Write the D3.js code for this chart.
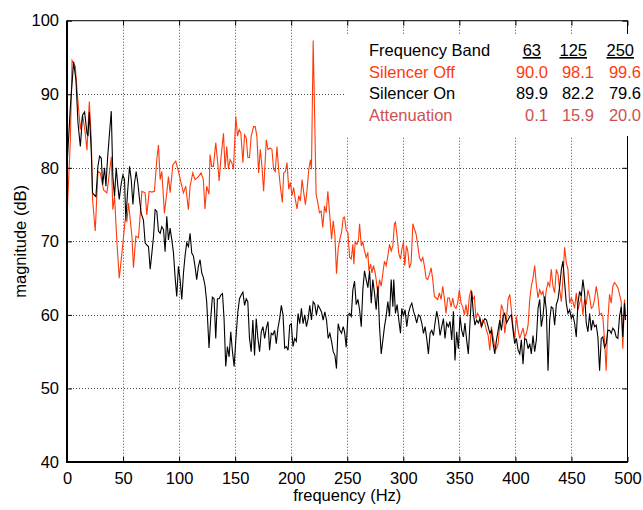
<!DOCTYPE html>
<html>
<head>
<meta charset="utf-8">
<script src="https://cdn.jsdelivr.net/npm/d3@7"></script>
<style>
  body { margin: 0; background: #fff; }
  svg { display: block; }
  text { font-family: "Liberation Sans", Arial, Helvetica, sans-serif; }
</style>
</head>
<body>
<div id="chart"></div>
<script>
// --- data ---
const offHz = [0,3.0,4.5,7.4,8.9,11.9,13.9,16.3,17.8,19.9,21.7,22.8,25.2,27.6,29.7,32.6,35.6,37.1,39.5,40.9,42.4,44.5,46.6,49.0,51.9,53.4,54.9,57.9,59.3,61.4,63.8,66.8,69.7,71.2,73.3,75.7,78.0,80.1,81.6,83.1,84.6,86.9,89.0,90.5,92.0,94.4,97.0,99.4,101.8,103.9,105.9,108.3,109.8,112.2,114.2,117.2,119.6,
  121.6,123.1,124.6,126.7,127.6,129.1,130.6,132.7,134.2,135.7,137.2,139.6,141.0,142.5,144.0,145.5,147.0,148.5,150.6,152.1,153.6,155.1,156.9,158.4,159.9,161.3,162.8,164.3,166.4,167.9,169.4,170.9,172.4,173.9,175.4,177.8,179.3,181.3,182.8,184.3,185.8,187.3,188.8,190.3,192.1,193.3,194.8,196.3,197.8,199.3,200.7,202.2,203.7,205.2,206.7,208.2,209.7,211.2,212.7,214.2,215.7,217.2,218.1,219.6,221.0,222.2,223.7,225.2,226.7,228.2,229.7,231.2,232.7,234.2,236.0,237.5,239.0,240.4,241.9,243.4,244.9,246.4,
  247.6,249.1,250.6,252.1,253.6,255.0,255.9,257.1,258.6,260.1,261.0,262.5,263.9,265.4,266.9,268.4,269.3,270.8,272.0,273.4,274.9,275.8,277.3,278.8,280.3,281.8,283.2,284.7,286.2,287.7,289.2,290.7,292.1,293.0,294.5,296.0,297.5,298.7,300.1,301.3,302.8,304.0,305.5,307.0,308.5,309.9,311.4,312.9,314.4,315.9,317.4,318.8,320.3,321.8,323.3,324.8,326.3,327.7,329.2,330.7,332.2,333.7,335.2,336.6,338.1,339.6,341.1,342.6,344.1,345.5,347.0,348.5,350.0,351.5,353.0,354.5,355.9,357.4,358.9,360.4,361.9,363.4,364.8,366.3,367.8,369.3,370.8,
  372.7,374.2,375.7,377.2,378.6,380.1,381.6,383.1,384.6,386.1,387.5,389.0,390.5,392.0,393.5,395.0,396.4,397.9,399.4,400.9,402.4,403.9,405.3,406.8,408.3,409.8,411.3,412.8,414.2,415.7,417.2,418.7,420.2,421.7,423.1,424.6,426.1,427.6,429.1,430.6,432.0,433.5,435.0,436.5,438.0,439.5,441.0,442.4,443.9,445.4,446.9,448.4,449.9,451.3,452.8,454.3,455.8,457.3,458.8,460.2,461.7,463.2,464.7,466.2,467.7,469.1,470.6,472.1,473.6,475.1,476.6,478.0,479.5,481.0,482.5,484.0,485.5,486.9,488.4,489.9,491.4,492.9,494.4,495.8,497.3,498.2];
const offDb = [73.2,83.8,94.6,93.8,90.6,85.2,87.2,84.7,82.4,89.0,83.8,75.7,71.4,79.5,79.3,77.0,76.6,78.4,81.5,74.3,76.1,70.0,65.0,68.4,72.9,72.7,75.2,70.7,66.4,70.7,70.5,76.8,76.6,73.6,76.8,76.7,76.8,81.1,83.1,78.4,79.5,73.8,76.6,78.8,76.6,80.4,80.9,79.5,77.9,76.6,77.5,74.3,77.5,79.3,78.4,78.8,79.3,
  78.4,74.4,77.5,76.4,81.8,80.2,80.2,83.4,81.1,78.2,81.1,84.7,79.8,82.9,79.8,81.1,80.7,79.8,87.0,84.3,85.2,84.7,80.7,84.5,84.1,81.4,81.4,84.3,85.6,85.6,84.3,79.3,82.5,80.2,76.8,83.8,82.5,82.7,82.5,79.8,79.5,82.9,79.8,77.5,75.3,79.3,79.5,80.7,77.1,78.0,76.2,77.3,75.7,74.4,76.2,75.5,78.4,76.6,75.0,77.1,79.8,81.1,79.8,97.3,86.5,76.4,75.3,73.9,74.1,71.9,74.8,73.9,76.8,73.9,70.3,72.8,70.8,65.6,69.0,70.3,71.2,73.2,
  73.3,71.5,71.2,67.8,67.6,69.6,66.9,69.9,69.6,70.3,72.4,69.4,69.9,68.7,67.8,68.5,66.0,66.9,65.7,66.7,65.7,64.8,62.8,64.8,63.9,65.7,67.3,66.7,68.0,69.6,68.7,69.4,72.4,72.6,70.6,68.3,67.6,68.9,69.9,66.7,69.4,68.7,66.4,67.1,72.4,71.7,71.0,69.4,67.8,67.3,67.8,66.7,65.0,64.8,65.5,66.4,64.8,62.5,62.3,62.1,63.0,62.1,63.9,62.3,60.2,62.3,62.3,61.1,62.3,61.1,60.9,61.6,63.4,61.6,61.1,60.0,61.4,59.8,62.5,63.4,62.1,62.5,59.5,60.2,59.8,58.4,59.3,
  58.9,57.9,57.2,55.2,58.4,57.0,55.6,55.4,56.1,58.9,61.4,60.7,57.5,59.3,62.1,62.8,60.7,58.4,56.8,59.8,57.9,56.8,57.5,58.2,57.0,57.5,58.6,62.1,63.9,65.0,66.7,64.1,62.3,63.4,62.8,63.2,61.6,63.4,64.4,63.9,66.2,63.9,63.0,66.2,65.5,63.4,61.8,65.0,69.2,67.1,66.2,61.6,62.3,61.8,60.9,63.0,60.7,61.6,62.5,60.0,62.1,61.4,63.4,62.5,60.9,61.1,62.1,63.9,62.5,60.0,60.2,59.8,56.6,52.4,59.3,62.8,61.6,63.9,64.4,64.1,63.7,62.8,61.8,55.4,62.1,59.8];

const onHz = [0,3.0,5.9,8.0,9.8,11.9,13.9,15.7,17.8,18.7,19.9,21.7,22.8,24.3,25.8,27.6,29.1,30.6,31.8,33.5,34.7,36.2,37.7,39.5,40.9,42.4,43.9,45.4,46.6,48.4,49.9,51.3,52.5,54.0,55.8,57.3,58.8,60.2,61.7,63.2,64.7,66.2,68.2,69.7,71.2,72.7,74.2,75.7,77.2,78.6,80.1,81.6,83.1,84.6,86.1,87.5,89.0,90.5,92.0,93.5,95.0,96.4,97.9,99.4,100.9,102.4,103.9,105.3,106.8,108.3,109.8,111.3,112.8,114.2,115.7,117.2,118.7,120.2,
  121.6,123.1,124.6,126.7,128.2,129.7,131.2,132.7,134.2,135.7,137.2,138.7,140.1,141.6,143.1,144.6,146.1,147.6,149.1,150.9,152.4,153.9,155.4,156.9,158.4,159.9,161.3,162.8,164.3,165.8,167.3,168.8,170.3,171.8,173.3,174.8,176.3,177.8,179.3,180.7,182.2,183.7,185.2,186.7,188.2,189.7,191.2,192.7,194.2,195.7,197.2,198.7,200.1,201.6,203.1,204.6,206.1,207.6,209.1,210.6,212.1,213.6,215.1,216.6,218.1,219.6,221.0,222.5,224.0,225.5,227.0,228.5,230.0,231.5,233.0,234.5,236.0,237.5,239.0,240.4,241.9,243.4,244.9,246.4,
  247.6,249.1,250.6,252.1,253.6,255.0,256.5,258.0,259.5,261.0,262.5,263.9,265.4,266.9,268.4,269.9,271.4,272.8,274.3,275.8,277.3,278.8,280.3,281.8,283.2,284.7,286.2,287.7,289.2,290.7,291.5,293.0,294.5,296.0,297.5,298.7,300.1,301.6,303.1,304.6,306.1,307.6,309.1,310.5,312.0,313.5,315.0,316.5,318.0,319.4,320.9,322.4,323.9,325.4,326.9,328.3,329.8,331.3,332.8,334.3,335.8,337.2,338.7,340.2,341.7,343.2,344.7,346.1,347.6,349.1,350.6,352.1,353.6,355.0,356.5,358.0,359.5,361.0,362.5,363.9,365.4,366.9,368.4,369.9,371.4,
  372.7,374.2,375.7,377.2,378.6,380.1,381.6,383.1,384.6,386.1,387.5,389.0,390.5,392.0,393.5,395.0,396.4,397.9,399.4,400.9,402.4,403.9,405.3,406.8,408.3,409.8,411.3,412.8,414.2,415.7,417.2,418.7,420.2,421.7,423.1,424.6,426.1,427.6,429.1,430.6,432.0,433.5,435.0,436.5,438.0,439.5,441.0,442.4,443.9,445.4,446.9,448.4,449.9,451.3,452.8,454.3,455.8,457.3,458.8,460.2,461.7,463.2,464.7,466.2,467.7,469.1,470.6,472.1,473.6,475.1,476.6,478.0,479.5,481.0,482.5,484.0,485.5,486.9,488.4,489.9,491.4,492.9,494.4,495.8,497.3,498.2];
const onDb = [80.2,88.3,94.4,91.9,86.1,82.9,87.2,87.6,84.7,84.3,87.6,82.0,76.6,76.3,76.1,80.2,81.6,81.3,77.7,80.0,77.5,81.3,84.3,87.7,78.8,76.1,80.0,77.5,75.7,77.9,79.0,78.4,72.9,76.6,80.2,78.4,75.0,77.9,79.5,77.9,75.7,73.8,72.9,69.8,69.5,69.3,66.2,68.4,70.7,74.3,74.1,71.4,71.1,72.0,71.6,68.6,73.4,70.2,71.8,70.2,68.4,65.2,62.5,66.6,64.8,62.1,65.7,68.0,69.8,69.3,71.1,68.4,68.0,66.6,64.8,66.6,67.5,65.7,
  65.1,64.0,61.8,55.5,59.5,62.4,62.2,56.8,62.2,62.2,62.7,62.9,59.5,53.0,55.7,54.3,57.7,55.0,53.0,57.3,60.4,62.2,62.7,63.1,61.3,62.2,61.8,56.8,55.0,59.3,54.5,59.5,56.8,55.0,57.7,58.4,56.8,58.2,59.1,55.2,57.5,57.3,57.9,56.1,58.2,59.5,61.3,60.0,55.5,55.7,55.2,58.6,58.8,55.7,56.8,56.4,60.2,58.8,60.9,58.8,60.0,58.4,59.5,61.3,59.3,61.8,61.5,60.0,61.3,60.9,60.4,59.3,60.4,59.3,56.8,57.5,56.4,55.0,54.5,52.7,58.8,57.9,57.5,58.4,
  57.7,55.6,60.0,60.2,59.8,63.4,64.6,61.4,62.1,60.7,58.4,63.4,66.0,64.8,63.7,66.0,61.6,64.8,63.0,60.7,63.9,58.4,54.7,56.6,58.4,59.8,61.8,59.8,64.8,61.1,64.8,60.2,61.4,59.3,57.5,60.9,59.8,60.7,58.4,60.2,61.1,61.6,60.5,59.8,58.9,60.0,59.8,58.9,57.5,58.4,56.8,54.7,57.5,57.9,57.2,58.9,60.5,59.3,57.2,58.4,59.5,56.8,58.9,58.4,59.1,56.6,60.5,53.8,57.7,55.4,59.8,57.9,57.0,58.9,56.6,54.7,58.9,63.2,60.2,58.6,59.3,58.9,59.5,58.4,59.1,
  59.5,59.3,58.4,57.5,57.9,56.1,54.7,56.6,57.9,59.3,57.9,59.8,60.2,58.9,59.3,59.8,60.0,57.9,56.1,56.8,55.2,54.7,56.6,53.3,56.8,56.6,55.4,56.1,54.7,57.2,55.0,56.6,60.9,62.1,58.4,59.8,62.5,60.7,52.4,59.3,61.1,60.9,58.6,61.4,62.1,63.9,66.2,67.3,64.4,61.6,60.2,60.7,59.5,60.0,58.9,57.0,61.6,63.2,62.5,64.8,63.0,58.9,57.7,60.2,57.9,59.3,58.4,58.6,57.0,52.4,56.8,57.0,55.6,56.1,57.9,57.9,57.5,58.2,57.9,57.0,56.8,59.8,61.1,57.0,61.6,59.3];

const xTicks = [0, 50, 100, 150, 200, 250, 300, 350, 400, 450, 500];
const yTicks = [40, 50, 60, 70, 80, 90, 100];
const bandLabels = ["63", "125", "250"];
const offBand = ["90.0", "98.1", "99.6"];
const onBand = ["89.9", "82.2", "79.6"];
const attBand = ["0.1", "15.9", "20.0"];

// --- layout ---
const W = 643, H = 510;
const m = { left: 67, right: 15.5, top: 20.7, bottom: 48 };
const iw = W - m.left - m.right, ih = H - m.top - m.bottom;
const RED = "#ff3a0a", ATT = "#cc5252";
const FS = "16.5px";

const svg = d3.select("#chart").append("svg").attr("width", W).attr("height", H);

const x = d3.scaleLinear().domain([0, 500]).range([m.left, m.left + iw]);
const y = d3.scaleLinear().domain([40, 100]).range([m.top + ih, m.top]);

// grid
const grid = svg.append("g").attr("stroke", "#444").attr("stroke-width", 1).attr("stroke-dasharray", "1,2");
grid.selectAll("line.gx").data(xTicks.slice(1, -1)).join("line")
  .attr("x1", d => Math.round(x(d)) + 0.5).attr("x2", d => Math.round(x(d)) + 0.5)
  .attr("y1", m.top).attr("y2", m.top + ih);
grid.selectAll("line.gy").data(yTicks.slice(1, -1)).join("line")
  .attr("y1", d => Math.round(y(d)) + 0.5).attr("y2", d => Math.round(y(d)) + 0.5)
  .attr("x1", m.left).attr("x2", m.left + iw);

// lines
svg.append("clipPath").attr("id", "plot").append("rect")
  .attr("x", m.left).attr("y", m.top).attr("width", iw).attr("height", ih);
const line = d3.line().x(d => x(d[0])).y(d => y(d[1]));
const offPts = offHz.map((f, i) => [f, offDb[i]]);
const onPts = onHz.map((f, i) => [f, onDb[i]]);
svg.append("path").datum(offPts).attr("d", line).attr("fill", "none")
  .attr("stroke", RED).attr("stroke-width", 1.1).attr("clip-path", "url(#plot)");
svg.append("path").datum(onPts).attr("d", line).attr("fill", "none")
  .attr("stroke", "#000").attr("stroke-width", 1.1).attr("clip-path", "url(#plot)");

// axes (ticks inward, on all four sides)
const fmt = d3.format("d");
const ax = svg.append("g");
ax.append("g").attr("transform", `translate(0,${m.top + ih})`)
  .call(d3.axisBottom(x).tickValues(xTicks).tickFormat(fmt).tickSizeInner(-5).tickSizeOuter(0).tickPadding(10));
ax.append("g").attr("transform", `translate(0,${m.top})`)
  .call(d3.axisTop(x).tickValues(xTicks).tickFormat("").tickSizeInner(-5).tickSizeOuter(0));
ax.append("g").attr("transform", `translate(${m.left},0)`)
  .call(d3.axisLeft(y).tickValues(yTicks).tickFormat(fmt).tickSizeInner(-5).tickSizeOuter(0).tickPadding(8));
ax.append("g").attr("transform", `translate(${m.left + iw},0)`)
  .call(d3.axisRight(y).tickValues(yTicks).tickFormat("").tickSizeInner(-5).tickSizeOuter(0));
ax.selectAll(".domain").remove();
ax.selectAll("text").attr("font-size", FS).attr("font-family", "Liberation Sans, Arial, sans-serif").attr("fill", "#000");
ax.selectAll(".tick line").attr("stroke", "#000");

// frame
svg.append("rect").attr("x", m.left).attr("y", m.top).attr("width", iw).attr("height", ih)
  .attr("fill", "none").attr("stroke", "#000").attr("stroke-width", 1);
svg.append("line").attr("x1", m.left).attr("x2", m.left).attr("y1", m.top).attr("y2", m.top + ih)
  .attr("stroke", "#000").attr("stroke-width", 2);
svg.append("line").attr("x1", m.left - 1).attr("x2", m.left + iw).attr("y1", m.top + ih).attr("y2", m.top + ih)
  .attr("stroke", "#000").attr("stroke-width", 2);

// axis titles
svg.append("text").attr("x", m.left + iw / 2).attr("y", 501).attr("text-anchor", "middle")
  .attr("font-size", FS).text("frequency (Hz)");
svg.append("text").attr("transform", `translate(26,${m.top + ih / 2}) rotate(-90)`).attr("text-anchor", "middle")
  .attr("font-size", FS).text("magnitude (dB)");

// band table in a white box
const tb = svg.append("g");
tb.append("rect").attr("x", 344).attr("y", 34).attr("width", W - 344).attr("height", 102).attr("fill", "#fff");
const rowY = [56, 78, 99, 121];
const colX = [548, 594, 641];
const rows = [
  { label: "Frequency Band", vals: bandLabels, color: "#000" },
  { label: "Silencer Off", vals: offBand, color: RED },
  { label: "Silencer On", vals: onBand, color: "#000" },
  { label: "Attenuation", vals: attBand, color: ATT }
];
rows.forEach((r, i) => {
  tb.append("text").attr("x", 369).attr("y", rowY[i]).attr("fill", r.color)
    .attr("font-size", FS).text(r.label);
  r.vals.forEach((v, j) => {
    const t = tb.append("text").attr("x", i === 0 ? colX[j] - 7 : colX[j]).attr("y", rowY[i])
      .attr("text-anchor", "end").attr("fill", r.color).attr("font-size", FS).text(v);
    if (i === 0) t.attr("text-decoration", "underline");
  });
});
</script>
</body>
</html>
